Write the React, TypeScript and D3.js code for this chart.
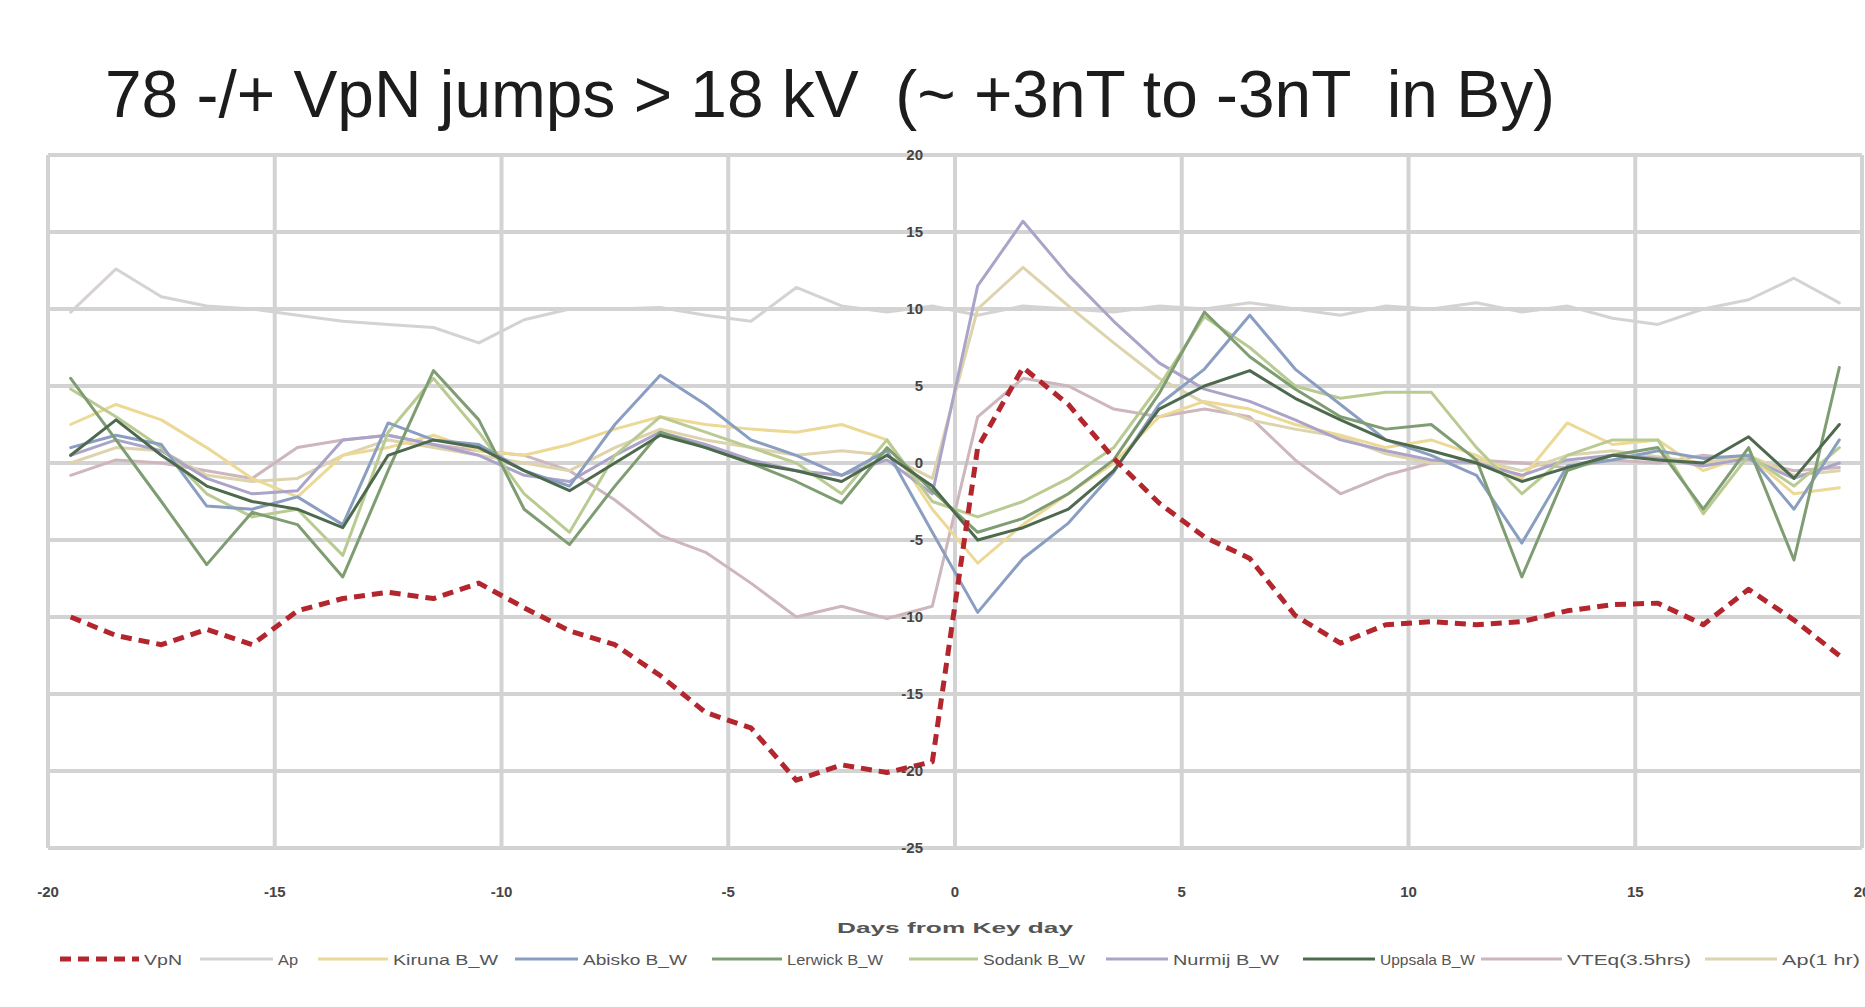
import React from 'react';
import * as d3 from 'd3';

// x categories (days from key day)
const days = [-19.5, -18.5, -17.5, -16.5, -15.5, -14.5, -13.5, -12.5, -11.5, -10.5,
  -9.5, -8.5, -7.5, -6.5, -5.5, -4.5, -3.5, -2.5, -1.5, -0.5,
  0.5, 1.5, 2.5, 3.5, 4.5, 5.5, 6.5, 7.5, 8.5, 9.5,
  10.5, 11.5, 12.5, 13.5, 14.5, 15.5, 16.5, 17.5, 18.5, 19.5];

const vpn = [-10, -11.2, -11.8, -10.8, -11.8, -9.6, -8.8, -8.4, -8.8, -7.8,
  -9.4, -10.9, -11.8, -13.8, -16.2, -17.2, -20.6, -19.6, -20.1, -19.4,
  1.0, 6.2, 3.8, 0.3, -2.6, -4.8, -6.2, -9.9, -11.7, -10.5,
  -10.3, -10.5, -10.3, -9.6, -9.2, -9.1, -10.5, -8.2, -10.2, -12.5];

const ap = [9.8, 12.6, 10.8, 10.2, 10.0, 9.6, 9.2, 9.0, 8.8, 7.8,
  9.3, 10.0, 10.0, 10.1, 9.6, 9.2, 11.4, 10.2, 9.8, 10.2,
  9.6, 10.2, 10.0, 9.8, 10.2, 10.0, 10.4, 10.0, 9.6, 10.2,
  10.0, 10.4, 9.8, 10.2, 9.4, 9.0, 10.0, 10.6, 12.0, 10.4];

const yellowS = [2.5, 3.8, 2.8, 1.0, -1.0, -2.2, 0.5, 1.0, 1.8, 0.8,
  0.5, 1.2, 2.2, 3.0, 2.5, 2.2, 2.0, 2.5, 1.5, -3.0,
  -6.5, -4.0, -2.0, 0.0, 3.0, 4.0, 3.5, 2.5, 1.8, 1.0,
  1.5, 0.5, -1.0, 2.6, 1.2, 1.5, -0.5, 0.5, -2.0, -1.6];

const blueS = [1.0, 1.8, 1.2, -2.8, -3.0, -2.2, -4.0, 2.6, 1.5, 1.2,
  -0.5, -1.5, 2.5, 5.7, 3.8, 1.5, 0.5, -0.8, 0.8, -4.5,
  -9.7, -6.2, -3.9, -0.6, 3.8, 6.1, 9.6, 6.1, 3.8, 1.5,
  0.5, -0.8, -5.2, -0.2, 0.2, 0.8, 0.3, 0.5, -3.0, 1.5];

const greenS = [5.5, 1.5, -2.5, -6.6, -3.2, -4.0, -7.4, -0.5, 6.0, 2.8,
  -3.0, -5.3, -1.5, 2.0, 1.0, 0.0, -1.2, -2.6, 1.0, -1.8,
  -4.5, -3.6, -2.0, 0.2, 4.5, 9.8, 6.9, 4.8, 3.0, 2.2,
  2.5, 0.2, -7.4, -0.5, 0.5, 1.0, -3.0, 1.0, -6.3, 6.2];

const lightGreenS = [4.8, 3.0, 1.0, -2.0, -3.5, -3.0, -6.0, 2.0, 5.5, 2.0,
  -2.0, -4.5, 0.5, 3.0, 2.0, 1.0, 0.0, -2.0, 1.5, -2.5,
  -3.5, -2.5, -1.0, 1.0, 5.0, 9.5, 7.5, 5.0, 4.2, 4.6,
  4.6, 1.0, -2.0, 0.5, 1.5, 1.5, -3.3, 0.5, -1.5, 1.0];

const lavenderS = [0.5, 1.5, 0.8, -1.0, -2.0, -1.8, 1.5, 1.8, 1.2, 0.5,
  -0.8, -1.2, 0.5, 2.0, 1.2, 0.2, -0.5, -0.8, 0.2, -2.0,
  11.5, 15.7, 12.2, 9.2, 6.5, 4.8, 4.0, 2.8, 1.5, 0.8,
  0.2, 0.0, -0.8, 0.2, 0.5, 0.3, -0.2, 0.3, -1.0, 0.0];

const darkGreenS = [0.5, 2.8, 0.5, -1.5, -2.5, -3.0, -4.2, 0.5, 1.5, 1.0,
  -0.5, -1.8, 0.0, 1.8, 1.0, 0.0, -0.5, -1.2, 0.5, -1.5,
  -5.0, -4.2, -3.0, -0.5, 3.5, 5.0, 6.0, 4.2, 2.8, 1.5,
  0.8, 0.0, -1.2, -0.3, 0.5, 0.2, 0.0, 1.7, -1.0, 2.5];

const mauveS = [-0.8, 0.2, 0.0, -0.5, -1.0, 1.0, 1.5, 1.8, 1.2, 0.8,
  0.5, -0.5, -2.4, -4.7, -5.8, -7.8, -10.0, -9.3, -10.1, -9.3,
  3.0, 5.5, 5.0, 3.5, 3.0, 3.5, 3.0, 0.2, -2.0, -0.8,
  0.0, 0.2, 0.0, -0.3, 0.2, 0.0, 0.5, 0.2, -0.5, -0.3];

const beigeS = [0.0, 1.0, 0.8, -0.8, -1.2, -1.0, 0.5, 1.5, 1.0, 0.5,
  0.0, -0.5, 1.0, 2.2, 1.5, 1.0, 0.5, 0.8, 0.5, -1.0,
  10.0, 12.7, 10.2, 7.8, 5.5, 3.9, 2.8, 2.2, 1.7, 0.6,
  0.0, 0.2, -0.5, 0.5, 0.8, 0.4, 0.0, 0.5, -0.8, -0.5];

const seriesNames = ['VpN', 'Ap', 'Kiruna B_W', 'Abisko B_W', 'Lerwick B_W', 'Sodank B_W',
  'Nurmij B_W', 'Uppsala B_W', 'VTEq(3.5hrs)', 'Ap(1 hr)'];

const xTicks = [-20, -15, -10, -5, 0, 5, 10, 15, 20];
const yTicks = [-25, -20, -15, -10, -5, 0, 5, 10, 15, 20];

const titleText = '78 -/+ VpN jumps > 18 kV  (~ +3nT to -3nT  in By)';
const xTitle = 'Days from Key day';

export default function App() {
  const W = 1865, H = 1007;
  const x = d3.scaleLinear().domain([-20, 20]).range([48, 1862]);
  const y = d3.scaleLinear().domain([-25, 20]).range([848, 155]);
  const lineGen = d3.line<number>().x((_, i) => x(days[i])).y(d => y(d));

  const series = [
    { name: seriesNames[1], values: ap, color: '#d6d2d2', width: 3, dash: '' },
    { name: seriesNames[8], values: mauveS, color: '#cdb6bc', width: 3, dash: '' },
    { name: seriesNames[9], values: beigeS, color: '#ddd3ad', width: 3, dash: '' },
    { name: seriesNames[2], values: yellowS, color: '#ecd995', width: 3, dash: '' },
    { name: seriesNames[6], values: lavenderS, color: '#aba4c8', width: 3, dash: '' },
    { name: seriesNames[5], values: lightGreenS, color: '#b9cb92', width: 3, dash: '' },
    { name: seriesNames[3], values: blueS, color: '#8a9ec2', width: 3, dash: '' },
    { name: seriesNames[4], values: greenS, color: '#7f9d72', width: 3, dash: '' },
    { name: seriesNames[7], values: darkGreenS, color: '#4e6a4e', width: 3, dash: '' },
    { name: seriesNames[0], values: vpn, color: '#b3262d', width: 5, dash: '11,7' },
  ];
  const legendOrder = [9, 0, 3, 6, 7, 5, 4, 8, 1, 2];
  const legendSwatchX = [60, 200, 318, 515, 712, 909, 1106, 1303, 1481, 1705];
  const legendSwatchW = [79, 73, 70, 63, 70, 69, 62, 72, 81, 72];
  const legendTextW = [38, 20, 105, 104, 96, 102, 106, 95, 124, 78];

  const font = '"Liberation Sans", Arial, sans-serif';

  return (
    <svg width={W} height={H} style={{ position: 'absolute', left: 0, top: 0, background: '#fff' }}
      fontFamily={font}>
      <rect x={0} y={0} width={W} height={H} fill="#fff" />
      <text x={105} y={117} fontSize={66} fill="#1c1c1c" style={{ whiteSpace: 'pre' }}
        textLength={1450} lengthAdjust="spacingAndGlyphs">{titleText}</text>

      {yTicks.map(t => (
        <line key={'h' + t} x1={x(-20)} x2={x(20)} y1={y(t)} y2={y(t)} stroke="#d3d3d3" strokeWidth={4} />
      ))}
      {xTicks.map(t => (
        <line key={'v' + t} x1={x(t)} x2={x(t)} y1={y(20)} y2={y(-25)} stroke="#d3d3d3" strokeWidth={4} />
      ))}

      {series.map(s => (
        <path key={s.name} d={lineGen(s.values) || ''} fill="none" stroke={s.color}
          strokeWidth={s.width} strokeDasharray={s.dash || undefined}
          strokeLinejoin="round" strokeLinecap={s.dash ? 'butt' : 'round'} />
      ))}

      {yTicks.map(t => (
        <text key={'yl' + t} x={x(0) - 32} y={y(t)} dy="0.35em" textAnchor="end"
          fontSize={15} fontWeight="bold" fill="#444">{t}</text>
      ))}
      {xTicks.map(t => (
        <text key={'xl' + t} x={x(t)} y={897} textAnchor="middle"
          fontSize={15} fontWeight="bold" fill="#444">{t}</text>
      ))}
      <text x={x(0)} y={933} textAnchor="middle" fontSize={15} fontWeight="bold" fill="#555"
        textLength={236} lengthAdjust="spacingAndGlyphs">{xTitle}</text>

      {legendOrder.map((si, k) => {
        const s = series[si];
        const x0 = legendSwatchX[k];
        return (
          <g key={'lg' + k}>
            <line x1={x0} x2={x0 + legendSwatchW[k]} y1={959} y2={959} stroke={s.color}
              strokeWidth={s.width} strokeDasharray={s.dash || undefined} />
            <text x={x0 + legendSwatchW[k] + 5} y={965} fontSize={15} fill="#555"
              textLength={legendTextW[k]} lengthAdjust="spacingAndGlyphs">{s.name}</text>
          </g>
        );
      })}
    </svg>
  );
}
